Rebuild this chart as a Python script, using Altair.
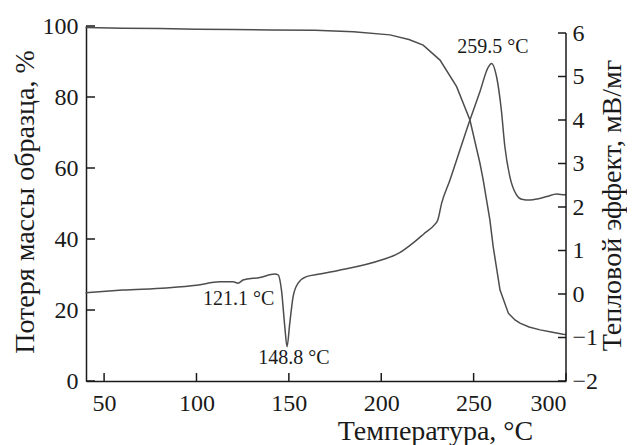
import altair as alt
import pandas as pd

# Thermogravimetry (mass, %) — left axis
tg_T = [40, 60, 80, 100, 120, 140, 164, 185, 204.7, 215, 222.7, 231.8, 240.8, 248, 253.4, 255.2,
        258.8, 260.6, 264.3, 268.8, 272.4, 275.1, 280, 286, 292, 298.4, 300]
tg_mass = [99.6, 99.4, 99.3, 99.1, 99.0, 98.9, 98.8, 98.4, 97.5, 96.2, 94.6, 90.4, 82.9, 73.5, 61.4, 56.6,
           45.4, 37.8, 25.6, 19.1, 17.2, 16.3, 15.2, 14.4, 13.8, 13.2, 13.1]

# DTA (heat effect, mV/mg) — right axis
dta_T = [40, 60, 83.6, 100, 112.6, 119.8, 122.5, 125.2, 134.3, 142.4, 144.2, 146, 147.8, 149, 150.5,
         152.3, 155, 159.5, 166.8, 176.7, 200, 210, 218, 223, 229, 230.6, 232.7, 237.2, 240.8, 248,
         253.4, 258, 259.7, 262.4, 265, 266.9, 269.6, 273.2, 276, 280.5, 285, 289.6, 295, 299.5, 300]
dta_v = [0.03, 0.09, 0.14, 0.20, 0.28, 0.28, 0.25, 0.32, 0.38, 0.46, 0.44, 0.09, -0.75, -1.21, -0.67,
         -0.06, 0.25, 0.40, 0.46, 0.54, 0.78, 0.95, 1.20, 1.38, 1.60, 1.70, 2.09, 2.62, 3.08, 4.0,
         4.65, 5.22, 5.30, 5.0, 4.23, 3.39, 2.70, 2.28, 2.18, 2.16, 2.19, 2.24, 2.30, 2.28, 2.28]

# Peak annotations
ann_text = ["121.1 °C", "148.8 °C", "259.5 °C"]
ann_T = [122.9, 152.7, 260.5]
ann_v = [-0.26, -1.61, 5.54]

x_ticks = [50, 100, 150, 200, 250, 300]
left_ticks = [0, 20, 40, 60, 80, 100]
right_ticks = [-2, -1, 0, 1, 2, 3, 4, 5, 6]

W, H = 480, 355
FONT = "Liberation Serif"
LINE = "#4d4d4d"
TXT = "#1a1a1a"

tg_df = pd.DataFrame({"T": tg_T, "m": tg_mass})
dta_df = pd.DataFrame({"T": dta_T, "v": dta_v})
ann_df = pd.DataFrame({"T": ann_T, "v": ann_v, "t": ann_text})
xt_df = pd.DataFrame({"T": x_ticks})
lt_df = pd.DataFrame({"m": left_ticks})
rt_df = pd.DataFrame({"v": right_ticks})
rdom_df = pd.DataFrame({"a": [right_ticks[0]], "b": [right_ticks[-1]]})

xscale = alt.Scale(domain=[40.2, 300], nice=False, zero=False)
yl_scale = alt.Scale(domain=[0, 100], nice=False)
yr_scale = alt.Scale(domain=[-2, -2 + 8 * 355 / 348], nice=False)

x_axis = alt.Axis(values=x_ticks, title="Температура, °C", tickSize=0, labelPadding=10,
                  labelFontSize=24, labelFont=FONT, labelColor=TXT, grid=False,
                  domainColor=TXT, domainWidth=1.5,
                  titleFont=FONT, titleFontSize=28, titleFontWeight="normal", titleColor=TXT,
                  titleX=349, titleY=58, titleAlign="center", titleBaseline="alphabetic")

tg_line = alt.Chart(tg_df).mark_line(color=LINE, strokeWidth=1.5).encode(
    x=alt.X("T:Q", scale=xscale, axis=x_axis),
    y=alt.Y("m:Q", scale=yl_scale, axis=alt.Axis(
        values=left_ticks, title="Потеря массы образца, %", tickSize=0, labelPadding=8,
        labelFontSize=24, labelFont=FONT, labelColor=TXT, grid=False,
        domainColor=TXT, domainWidth=1.5,
        titleFont=FONT, titleFontSize=28, titleFontWeight="normal", titleColor=TXT,
        titleAngle=270, titleX=-53, titleY=175.5, titleAlign="center", titleBaseline="alphabetic")),
)
left_tick_marks = alt.Chart(lt_df).mark_rule(color=TXT, strokeWidth=1.5).encode(
    y=alt.Y("m:Q", scale=yl_scale), x=alt.value(0), x2=alt.value(9))
bottom_tick_marks = alt.Chart(xt_df).mark_rule(color=TXT, strokeWidth=1.5).encode(
    x=alt.X("T:Q", scale=xscale), y=alt.value(H), y2=alt.value(H - 8))
left_group = alt.layer(tg_line, left_tick_marks, bottom_tick_marks)

dta_line = alt.Chart(dta_df).mark_line(color=LINE, strokeWidth=1.5, interpolate="monotone").encode(
    x=alt.X("T:Q", scale=xscale),
    y=alt.Y("v:Q", scale=yr_scale, axis=alt.Axis(
        orient="right", values=right_ticks, title="Тепловой эффект, мВ/мг", tickSize=0,
        labelPadding=6, domain=False,
        labelFontSize=24, labelFont=FONT, labelColor=TXT, grid=False,
        titleFont=FONT, titleFontSize=28, titleFontWeight="normal", titleColor=TXT,
        titleAngle=270, titleX=54, titleY=179, titleAlign="center", titleBaseline="alphabetic")),
)
right_tick_marks = alt.Chart(rt_df).mark_rule(color=TXT, strokeWidth=1.5).encode(
    y=alt.Y("v:Q", scale=yr_scale), x=alt.value(W - 8), x2=alt.value(W))
right_domain = alt.Chart(rdom_df).mark_rule(color=TXT, strokeWidth=1.5).encode(
    y=alt.Y("a:Q", scale=yr_scale), y2="b:Q", x=alt.value(W))
ann = alt.Chart(ann_df).mark_text(font=FONT, fontSize=20, color=TXT, align="center",
                                  baseline="alphabetic").encode(
    x=alt.X("T:Q", scale=xscale), y=alt.Y("v:Q", scale=yr_scale), text="t:N")
right_group = alt.layer(dta_line, right_tick_marks, right_domain, ann)

chart = alt.layer(left_group, right_group).resolve_scale(y="independent").properties(
    width=W, height=H,
    autosize=alt.AutoSizeParams(type="none"),
    padding={"left": 78, "top": 18, "right": 61, "bottom": 64},
    background="white",
).configure_view(stroke=None)

chart.save("out.html", embed_options={"renderer": "svg", "actions": False})
